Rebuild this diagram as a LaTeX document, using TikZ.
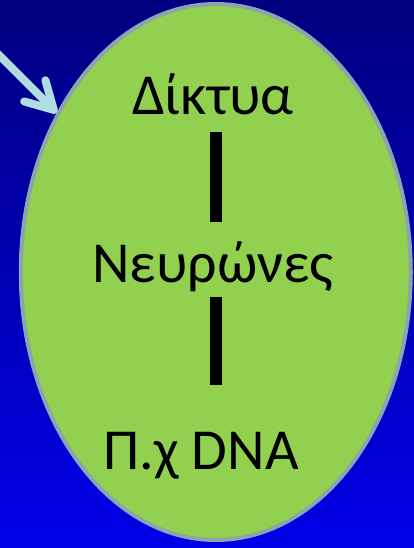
\documentclass[tikz,border=0pt]{standalone}
\usepackage{fontspec}
\setmainfont{Carlito}
\usetikzlibrary{shapes.geometric,arrows.meta}
\definecolor{navytop}{RGB}{0,0,128}
\definecolor{bluebottom}{RGB}{0,0,232}
\definecolor{cellgreen}{RGB}{146,208,80}
\definecolor{cellrim}{RGB}{140,163,176}
\definecolor{pointerblue}{RGB}{176,221,228}
\begin{document}
\begin{tikzpicture}[x=1pt,y=-1pt]

    \tikzset{
      cell/.style={
        ellipse,
        draw=cellrim,
        fill=cellgreen,
        line width=4pt,
        inner sep=0pt,
        minimum width=390pt,
        minimum height=536pt,
      },
      label/.style={
        anchor=base,
        inner sep=0pt,
        text height=40pt,
        text depth=12pt,
        font=\fontsize{58}{58}\selectfont,
      },
      bar/.style={
        line width=12pt,
        black,
      },
      pointer/.style={
        line width=8pt,
        pointerblue,
        line cap=round,
        -{Straight Barb[length=27pt,width=30pt,line cap=round,line join=round]},
      },
    }
    \useasboundingbox (0,0) rectangle (414,548);
    \shade[top color=navytop,bottom color=bluebottom] (0,0) rectangle (414,548);
	\node[cell] (blob) at (215.75,272) {};
	\node[label] (diktya) at (213,115) {Δίκτυα};
	\node[label] (neurones) at (213,282) {Νευρώνες};
	\node[label] (dna) at (201,469) {Π.χ DNA};
	\draw[bar] ([xshift=2.5pt]diktya.south) -- ([xshift=2.5pt]neurones.north) [shorten <=5pt,shorten >=20pt];
	\draw[bar] ([xshift=2.5pt]neurones.south) -- ([xshift=14.5pt]dna.north) [shorten <=3pt,shorten >=44pt];
	\coordinate (tail) at (-20,36);
	\draw[pointer] (tail) -- (blob);

\end{tikzpicture}
\end{document}
